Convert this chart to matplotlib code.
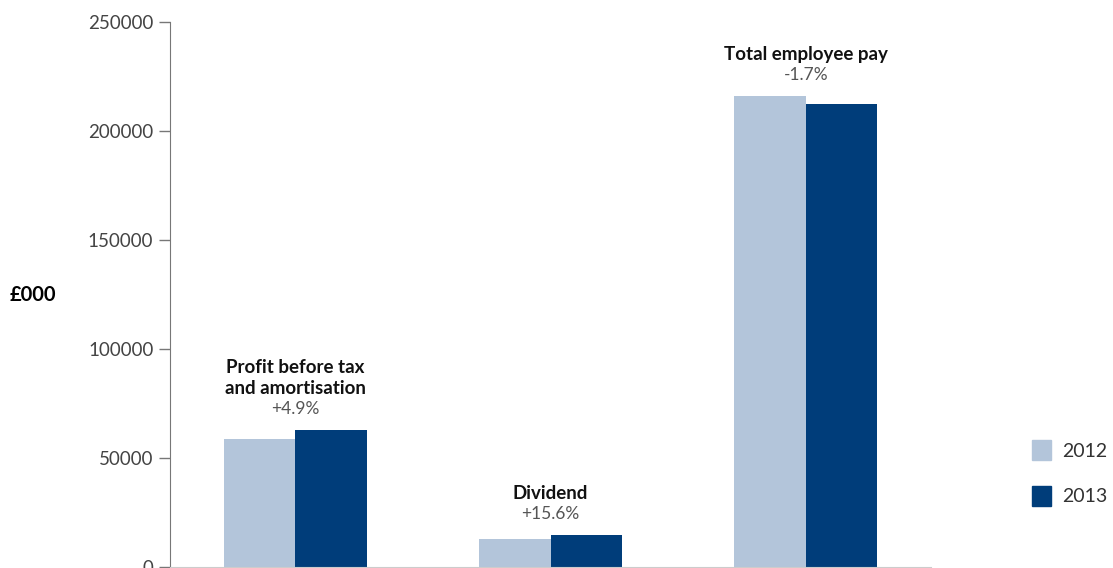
import matplotlib.pyplot as plt
from matplotlib.patches import Patch

categories = ["Profit before tax\nand amortisation", "Dividend", "Total employee pay"]
changes = ["+4.9%", "+15.6%", "-1.7%"]
values_2012 = [58600, 12800, 216000]
values_2013 = [62700, 14600, 212600]

light = "#b3c5da"
dark = "#003d7a"

plt.rcParams["font.family"] = ["Lato", "DejaVu Sans"]

fig = plt.figure(figsize=(11.13, 5.68), dpi=100)
ax = fig.add_axes([170 / 1113, 1 / 568, (931 - 170) / 1113, (567 - 22) / 568])

x = list(range(len(categories)))
w = 0.28
ax.bar([i - w / 2 for i in x], values_2012, width=w, color=light)
ax.bar([i + w / 2 for i in x], values_2013, width=w, color=dark)

# category labels above each group
for i in x:
    top = max(values_2012[i], values_2013[i])
    ax.annotate(changes[i], (i, top), xytext=(0, 15), textcoords="offset points",
                ha="center", va="center", fontsize=12.5, color="#555555")
    ax.annotate(categories[i], (i, top), xytext=(0, 24), textcoords="offset points",
                ha="center", va="bottom", fontsize=13.5, fontweight="bold",
                color="#111111", linespacing=1.3)

ax.set_xlim(-0.49, 2.49)
ax.set_ylim(0, 250000)
ax.set_yticks([0, 50000, 100000, 150000, 200000, 250000])
ax.set_xticks([])
ax.tick_params(axis="y", direction="out", length=8, width=1, color="#777777",
               labelsize=13.5, labelcolor="#444444", pad=4)

for s in ["top", "right"]:
    ax.spines[s].set_visible(False)
ax.spines["left"].set_color("#777777")
ax.spines["bottom"].set_color("#cccccc")

fig.text(10 / 1113, 1 - 295 / 568, "£000", fontsize=14.5, fontweight="bold",
         ha="left", va="center")

handles = [Patch(color=light, label="2012"), Patch(color=dark, label="2013")]
leg = fig.legend(handles=handles, loc="center left",
                 bbox_to_anchor=(1014 / 1113, 1 - 473 / 568),
                 frameon=False, fontsize=14, handlelength=1.0, handleheight=1.2,
                 labelspacing=1.3, handletextpad=0.6)
for t in leg.get_texts():
    t.set_color("#333333")

fig.savefig("out.png", dpi=100)
